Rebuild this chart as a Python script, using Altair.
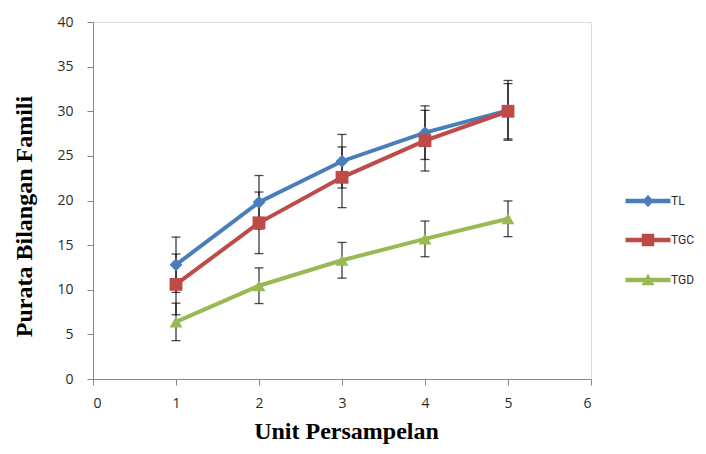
import altair as alt
import pandas as pd

# ---- data ----
units = [1, 2, 3, 4, 5]
series_names = ["TL", "TGC", "TGD"]
tl_mean = [12.8, 19.8, 24.4, 27.6, 30.1]
tl_err = [3.1, 3.0, 3.0, 3.0, 3.35]
tgc_mean = [10.6, 17.5, 22.6, 26.7, 30.0]
tgc_err = [3.4, 3.45, 3.4, 3.4, 3.1]
tgd_mean = [6.4, 10.45, 13.3, 15.7, 17.95]
tgd_err = [2.1, 2.0, 2.0, 2.0, 2.0]

x_ticks = [0, 1, 2, 3, 4, 5, 6]
y_ticks = [0, 5, 10, 15, 20, 25, 30, 35, 40]

colors = ["#4A7EBB", "#BE4B48", "#98B954"]
shapes = ["diamond", "square", "triangle-up"]
legend_shapes = [
    "M-4.5,-0.45H4.5V0.45H-4.5Z M-1.2,0L0,-1.2L1.2,0L0,1.2Z",
    "M-4.5,-0.45H4.5V0.45H-4.5Z M-1.25,-1.25H1.25V1.25H-1.25Z",
    "M-4.5,-0.45H4.5V0.45H-4.5Z M0,-1.3L1.3,1.05L-1.3,1.05Z",
]

rows = []
for name, means, errs in [("TL", tl_mean, tl_err), ("TGC", tgc_mean, tgc_err), ("TGD", tgd_mean, tgd_err)]:
    for u, m, e in zip(units, means, errs):
        rows.append({"series": name, "unit": u, "mean": m, "lo": m - e, "hi": m + e})
df = pd.DataFrame(rows)

AX = "#868686"
LABEL_FONT = "Open Sans"
LABEL_COLOR = "#2b2b2b"

x_enc = alt.X(
    "unit:Q",
    scale=alt.Scale(domain=[0, 6], nice=False, zero=False),
    axis=alt.Axis(
        values=x_ticks, format="d", grid=False, domainColor=AX, tickColor=AX, tickSize=6,
        labelFont=LABEL_FONT, labelFontSize=14, labelColor=LABEL_COLOR, labelPadding=11,
        title="Unit Persampelan", titleFont="Liberation Serif", titleFontSize=24,
        titleFontWeight="bold", titleColor="black", titlePadding=9, titleX=253,
    ),
)
y_axis = alt.Axis(
    values=y_ticks, format="d", grid=False, domainColor=AX, tickColor=AX, tickSize=6,
    labelFont=LABEL_FONT, labelFontSize=14, labelColor=LABEL_COLOR, labelPadding=14,
    title="Purata Bilangan Famili", titleFont="Liberation Serif", titleFontSize=24,
    titleFontWeight="bold", titleColor="black", titlePadding=20, titleY=194,
)
y_scale = alt.Scale(domain=[0, 40], nice=False)

base = alt.Chart(df)

err_rule = base.mark_rule(color="black", strokeWidth=1).encode(
    x=x_enc,
    y=alt.Y("lo:Q", scale=y_scale, axis=y_axis),
    y2="hi:Q",
)
err_lo = base.mark_tick(orient="horizontal", color="black", size=9, thickness=1.3).encode(
    x="unit:Q", y="lo:Q"
)
err_hi = base.mark_tick(orient="horizontal", color="black", size=9, thickness=1.3).encode(
    x="unit:Q", y="hi:Q"
)

lines = base.mark_line(strokeWidth=4).encode(
    x="unit:Q",
    y="mean:Q",
    color=alt.Color("series:N", scale=alt.Scale(domain=series_names, range=colors), legend=None),
    detail="series:N",
)

points = base.mark_point(filled=True, size=165, opacity=1).encode(
    x="unit:Q",
    y="mean:Q",
    color=alt.Color("series:N", scale=alt.Scale(domain=series_names, range=colors), legend=None),
    shape=alt.Shape("series:N", scale=alt.Scale(domain=series_names, range=shapes), legend=None),
)

legend = alt.Legend(
    title=None, orient="none", legendX=549, legendY=173, padding=0,
    symbolSize=100, labelOffset=17, rowPadding=26,
    labelFont="Roboto", labelFontSize=12, labelColor=LABEL_COLOR,
    symbolStrokeWidth=0, symbolOpacity=1,
)

legend_layer = base.mark_point(filled=True, size=100, opacity=0).encode(
    x="unit:Q",
    y="mean:Q",
    color=alt.Color("series:N", scale=alt.Scale(domain=series_names, range=colors), legend=legend),
    shape=alt.Shape("series:N", scale=alt.Scale(domain=series_names, range=legend_shapes), legend=legend),
)

chart = alt.layer(err_rule, err_lo, err_hi, lines, points, legend_layer).resolve_scale(
    color="independent", shape="independent"
).properties(
    width=498,
    height=357,
    padding={"left": 85, "top": 14, "right": 107, "bottom": 66},
    autosize=alt.AutoSizeParams(type="none"),
).configure_view(stroke=None).configure(background="white")

chart.save("out.html", embed_options={"renderer": "svg", "actions": False})
